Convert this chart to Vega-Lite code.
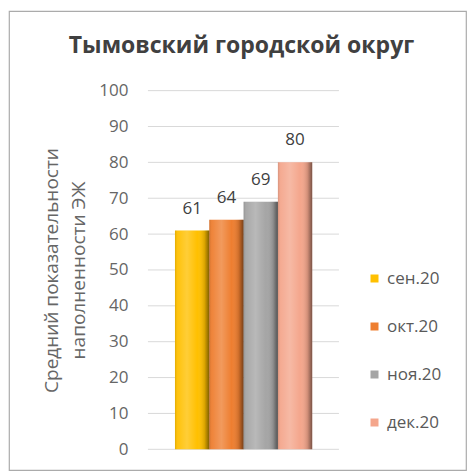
{
  "$schema": "https://vega.github.io/schema/vega-lite/v6.json",
  "autosize": {"type": "none"},
  "padding": {"left": 9, "top": 11, "right": 2, "bottom": 1},
  "width": 457,
  "height": 459,
  "background": "#ffffff",
  "config": {
    "font": "Open Sans",
    "view": {"stroke": "#ABABAB", "strokeWidth": 1.2}
  },
  "title": {
    "text": "Тымовский городской округ",
    "orient": "top",
    "anchor": "middle",
    "frame": "group",
    "offset": -47,
    "dx": 4,
    "fontSize": 23,
    "fontWeight": "bold",
    "color": "#404040",
    "font": "Open Sans"
  },
  "datasets": {
    "bars": [
      {"month": "сен.20", "value": 61},
      {"month": "окт.20", "value": 64},
      {"month": "ноя.20", "value": 69},
      {"month": "дек.20", "value": 80}
    ],
    "grid": [
      {"v": 0}, {"v": 10}, {"v": 20}, {"v": 30}, {"v": 40}, {"v": 50},
      {"v": 60}, {"v": 70}, {"v": 80}, {"v": 90}, {"v": 100}
    ]
  },
  "layer": [
    {
      "data": {"name": "grid"},
      "mark": {"type": "rule", "color": "#D9D9D9", "strokeWidth": 1},
      "encoding": {
        "y": {"field": "v", "type": "quantitative"},
        "x": {"datum": "g", "type": "nominal", "bandPosition": -0.128},
        "x2": {"datum": "g", "bandPosition": 1.126}
      }
    },
    {
      "data": {"name": "bars"},
      "mark": {"type": "bar"},
      "encoding": {
        "x": {"datum": "g", "type": "nominal"},
        "xOffset": {
          "field": "month",
          "type": "nominal",
          "sort": null,
          "scale": {
            "domain": ["сен.20", "окт.20", "ноя.20", "дек.20"],
            "paddingInner": 0,
            "paddingOuter": 0.22
          }
        },
        "y": {"field": "value", "type": "quantitative"},
        "color": {
          "field": "month",
          "type": "nominal",
          "sort": null,
          "scale": {
            "domain": ["сен.20", "окт.20", "ноя.20", "дек.20"],
            "range": ["#FFC000", "#EE7E30", "#A5A5A5", "#F4A68C"]
          },
          "legend": {
            "title": null,
            "orient": "none",
            "legendX": 357,
            "legendY": 259,
            "direction": "vertical",
            "symbolType": "square",
            "symbolSize": 64,
            "symbolStrokeWidth": 0,
            "labelFontSize": 17,
            "labelColor": "#595959",
            "labelFont": "Open Sans",
            "labelOffset": 4,
            "rowPadding": 30,
            "padding": 0
          }
        }
      }
    },
    {
      "data": {"name": "bars"},
      "mark": {
        "type": "bar",
        "fill": {
          "gradient": "linear",
          "x1": 0, "x2": 1, "y1": 0, "y2": 0,
          "stops": [
            {"offset": 0, "color": "rgba(0,0,0,0.12)"},
            {"offset": 0.08, "color": "rgba(255,255,255,0.05)"},
            {"offset": 0.35, "color": "rgba(255,255,255,0.22)"},
            {"offset": 0.65, "color": "rgba(255,255,255,0.0)"},
            {"offset": 0.86, "color": "rgba(0,0,0,0.14)"},
            {"offset": 1, "color": "rgba(0,0,0,0.5)"}
          ]
        }
      },
      "encoding": {
        "x": {"datum": "g", "type": "nominal"},
        "xOffset": {"field": "month", "type": "nominal", "sort": null},
        "y": {"field": "value", "type": "quantitative"}
      }
    },
    {
      "data": {"name": "bars"},
      "mark": {"type": "text", "baseline": "middle", "dy": -22, "fontSize": 17, "color": "#404040", "font": "Open Sans"},
      "encoding": {
        "x": {"datum": "g", "type": "nominal"},
        "xOffset": {"field": "month", "type": "nominal", "sort": null},
        "y": {"field": "value", "type": "quantitative"},
        "text": {"field": "value", "type": "quantitative"}
      }
    }
  ],
  "encoding": {
    "x": {
      "type": "nominal",
      "scale": {
        "domain": ["g"],
        "paddingInner": 0,
        "paddingOuter": 1,
        "align": 0.52
      },
      "axis": null
    },
    "y": {
      "type": "quantitative",
      "scale": {"domain": [-5.77, 122.2], "nice": false, "zero": false},
      "axis": {
        "values": [0, 10, 20, 30, 40, 50, 60, 70, 80, 90, 100],
        "offset": -123,
        "ticks": false,
        "domain": false,
        "grid": false,
        "labelPadding": 4,
        "labelFontSize": 17,
        "labelColor": "#666666",
        "labelFont": "Open Sans",
        "title": ["Средний показательности", "наполненности ЭЖ"],
        "titleFontSize": 19,
        "titleFontWeight": "normal",
        "titleColor": "#666666",
        "titleFont": "Open Sans",
        "titleAngle": -90,
        "titleLineHeight": 27,
        "titleAlign": "center",
        "titleBaseline": "middle",
        "titleX": -81,
        "titleY": 259
      }
    }
  },
  "resolve": {"scale": {"x": "shared", "y": "shared"}}
}
